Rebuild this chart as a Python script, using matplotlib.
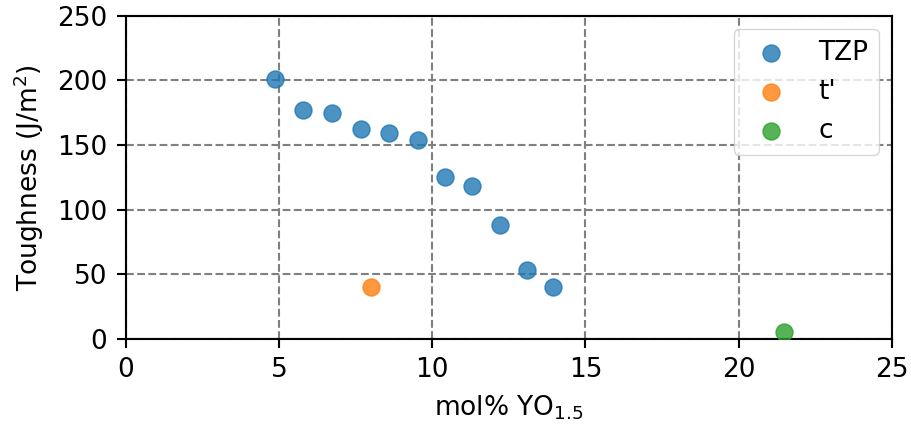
import matplotlib
matplotlib.use("Agg")
import matplotlib.pyplot as plt

# toughness vs yttria content
tzp_y = [4.86, 5.79, 6.74, 7.67, 8.60, 9.53, 10.43, 11.31, 12.21, 13.10, 13.95]
tzp_t = [201.5, 177.5, 174.5, 162.5, 159.5, 154, 125, 118, 88.5, 53, 40.5]
tp_y = [7.99]
tp_t = [40]
c_y = [21.47]
c_t = [5]

# everything a bit bigger than default
k = 1.9
plt.rcParams.update({
    'font.size': 10 * k,
    'axes.linewidth': 0.8 * k,
    'xtick.major.size': 3.5 * k, 'ytick.major.size': 3.5 * k,
    'xtick.major.width': 0.8 * k, 'ytick.major.width': 0.8 * k,
    'xtick.major.pad': 3.5 * k, 'ytick.major.pad': 3.5 * k,
    'axes.labelpad': 4 * k,
    'grid.linewidth': 0.8 * k,
})

fig, ax = plt.subplots(figsize=(9.12, 4.29), dpi=100)
ax.scatter(tzp_y, tzp_t, s=150, alpha=0.8, label="TZP", zorder=3)
ax.scatter(tp_y, tp_t, s=150, alpha=0.8, label="t'", zorder=3)
ax.scatter(c_y, c_t, s=150, alpha=0.8, label="c", zorder=3)

ax.set_xlim(0, 25)
ax.set_ylim(0, 250)
ax.set_xlabel("mol% YO$_{1.5}$")
ax.set_ylabel("Toughness (J/m$^2$)")
ax.grid(True, linestyle="--", color="gray")
ax.legend(loc="upper right")

fig.subplots_adjust(left=0.1378, right=0.978, top=0.963, bottom=0.21)
fig.savefig("out.png", dpi=100)
